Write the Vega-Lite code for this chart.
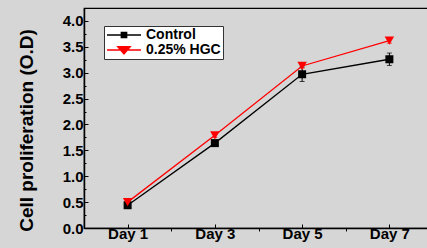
{
  "$schema": "https://vega.github.io/schema/vega-lite/v6.json",
  "width": 349,
  "height": 220,
  "autosize": {"type": "none"},
  "padding": {"left": 84, "top": 8, "right": -6, "bottom": 20},
  "background": "#d6d6d6",
  "config": {
    "view": {"stroke": "#000", "strokeWidth": 1.2},
    "font": "Liberation Sans",
    "axis": {
      "domainColor": "#000",
      "domainWidth": 1.5,
      "tickColor": "#000",
      "tickWidth": 1,
      "labelColor": "#000",
      "labelFont": "Liberation Sans",
      "labelFontWeight": "bold",
      "labelFontSize": 15,
      "grid": false
    }
  },
  "data": {
    "values": [
      {"day": 1, "series": "Control", "od": 0.44, "err": 0.03},
      {"day": 3, "series": "Control", "od": 1.64, "err": 0.05},
      {"day": 5, "series": "Control", "od": 2.97, "err": 0.14},
      {"day": 7, "series": "Control", "od": 3.26, "err": 0.12},
      {"day": 1, "series": "0.25% HGC", "od": 0.5, "err": 0.02},
      {"day": 3, "series": "0.25% HGC", "od": 1.79, "err": 0.04},
      {"day": 5, "series": "0.25% HGC", "od": 3.13, "err": 0.04},
      {"day": 7, "series": "0.25% HGC", "od": 3.62, "err": 0.05}
    ]
  },
  "encoding": {
    "x": {
      "field": "day",
      "type": "quantitative",
      "scale": {"domain": [0, 8], "nice": false, "zero": false},
      "axis": {
        "title": null,
        "values": [1, 2, 3, 4, 5, 6, 7],
        "labelExpr": "datum.value % 2 === 1 ? 'Day ' + datum.value : ''",
        "tickSize": {"condition": {"test": "datum.value % 2 === 1", "value": -4}, "value": 3},
        "labelPadding": 2,
        "labelFlush": false
      }
    },
    "y": {
      "field": "od",
      "type": "quantitative",
      "scale": {"domain": [0, 4.25], "nice": false},
      "axis": {
        "title": "Cell proliferation (O.D)",
        "titleFont": "Liberation Sans",
        "titleFontSize": 19,
        "titleFontWeight": "bold",
        "titleColor": "#000",
        "titlePadding": 26,
        "titleY": 122,
        "values": [0, 0.25, 0.5, 0.75, 1, 1.25, 1.5, 1.75, 2, 2.25, 2.5, 2.75, 3, 3.25, 3.5, 3.75, 4],
        "labelExpr": "datum.value % 0.5 === 0 ? format(datum.value, '.1f') : ''",
        "tickSize": {"condition": {"test": "datum.value % 0.5 === 0", "value": -4}, "value": -2},
        "labelPadding": 5
      }
    }
  },
  "layer": [
    {
      "mark": {"type": "line", "strokeWidth": 1.3},
      "encoding": {
        "color": {
          "field": "series",
          "type": "nominal",
          "sort": ["Control", "0.25% HGC"],
          "scale": {"domain": ["Control", "0.25% HGC"], "range": ["#000000", "#ff0000"]},
          "legend": {
            "title": null,
            "orient": "none",
            "legendX": 20,
            "legendY": 18,
            "fillColor": "#ffffff",
            "strokeColor": "#333333",
            "padding": 2,
            "labelFont": "Liberation Sans",
            "labelFontWeight": "bold",
            "labelFontSize": 14,
            "labelColor": "#000",
            "labelOffset": 26,
            "symbolSize": 144,
            "symbolStrokeWidth": 1.3,
            "rowPadding": 1,
            "encode": {
              "symbols": {
                "update": {
                  "shape": {"signal": "datum.value === 'Control' ? 'M-1.0,0H4.67M1.38,-0.45H2.28V0.45H1.38Z' : 'M-1.0,0H4.67M0.78,-0.55H2.88L1.83,0.65Z'"},
                  "fill": {"signal": "datum.value === 'Control' ? '#000000' : '#ff0000'"},
                  "stroke": {"signal": "datum.value === 'Control' ? '#000000' : '#ff0000'"}
                }
              }
            }
          }
        }
      }
    },
    {
      "transform": [{"filter": "datum.series === 'Control'"}],
      "mark": {"type": "errorbar", "ticks": true, "color": "#000000"},
      "encoding": {"yError": {"field": "err"}}
    },
    {
      "transform": [{"filter": "datum.series !== 'Control'"}],
      "mark": {"type": "errorbar", "ticks": true, "color": "#ff0000"},
      "encoding": {"yError": {"field": "err"}}
    },
    {
      "transform": [{"filter": "datum.series === 'Control'"}],
      "mark": {"type": "point", "shape": "square", "filled": true, "opacity": 1, "size": 64, "color": "#000000"}
    },
    {
      "transform": [{"filter": "datum.series !== 'Control'"}],
      "mark": {"type": "point", "shape": "triangle-down", "filled": true, "opacity": 1, "size": 90, "color": "#ff0000"}
    }
  ]
}
